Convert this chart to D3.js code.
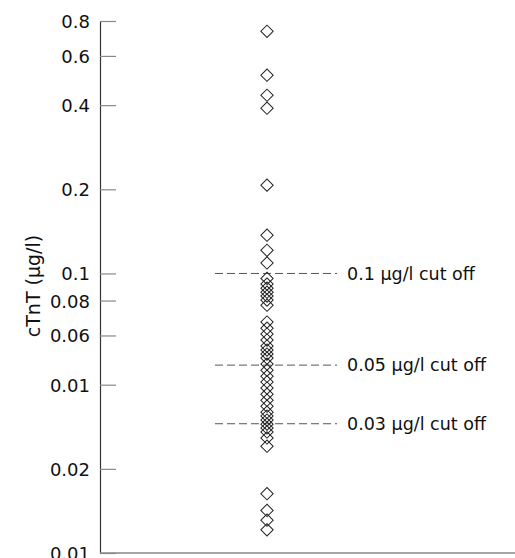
<!DOCTYPE html>
<html>
<head>
<meta charset="utf-8">
<script src="https://cdn.jsdelivr.net/npm/d3@7"></script>
<style>
  html, body { margin: 0; padding: 0; background: #fff; }
  svg { display: block; }
  text { font-family: "DejaVu Sans", "Open Sans", sans-serif; fill: #111; }
</style>
</head>
<body>
<svg id="chart" width="515" height="558"></svg>
<script>
// ---- data ----
const tickValues = [0.01, 0.02, 0.04, 0.06, 0.08, 0.1, 0.2, 0.4, 0.6, 0.8];
const tickLabels = ["0.01", "0.02", "0.01", "0.06", "0.08", "0.1", "0.2", "0.4", "0.6", "0.8"];
const cTnT = [
  0.735, 0.512, 0.434, 0.390, 0.207, 0.137, 0.121, 0.109,
  0.096, 0.0916, 0.0886, 0.0857, 0.083, 0.0803, 0.077,
  0.067, 0.0637, 0.0607, 0.0578, 0.055, 0.0532, 0.0515, 0.0498,
  0.0474, 0.0451, 0.0429, 0.0409, 0.0389, 0.037, 0.0352, 0.0335,
  0.0319, 0.0309, 0.0299, 0.0289, 0.028, 0.0271, 0.0258, 0.0241,
  0.0163, 0.0142, 0.0131, 0.0121
];
const cutoffValues = [0.1, 0.047, 0.029];
const cutoffLabels = ["0.1 \u03bcg/l cut off", "0.05 \u03bcg/l cut off", "0.03 \u03bcg/l cut off"];
const groups = ["cTnT"];
const yTitle = "cTnT (\u03bcg/l)";

// ---- layout ----
const svg = d3.select("#chart");
const axisX = 100, yTop = 21, yBottom = 553;

const y = d3.scaleLog().domain([0.01, 0.8]).range([yBottom, yTop]);
const x = d3.scalePoint().domain(groups).range([axisX, 434]).padding(0.5);

// y axis
const yAxis = d3.axisRight(y)
  .tickValues(tickValues)
  .tickFormat((d, i) => tickLabels[i])
  .tickSize(16)
  .tickSizeOuter(0);
const gAxis = svg.append("g").attr("transform", `translate(${axisX},0)`).call(yAxis);
gAxis.select(".domain").attr("stroke", "#333").attr("stroke-width", 1.2);
gAxis.selectAll(".tick line").attr("stroke", "#888").attr("stroke-width", 1.2);
gAxis.selectAll(".tick text")
  .attr("x", -10)
  .attr("text-anchor", "end")
  .attr("dy", "0.36em")
  .style("font-size", "18px")
  .style("font-family", "'DejaVu Sans', sans-serif")
  .attr("fill", "#111");

// bottom baseline
svg.append("line")
  .attr("x1", axisX).attr("x2", 515)
  .attr("y1", y(0.01)).attr("y2", y(0.01))
  .attr("stroke", "#888").attr("stroke-width", 1.5);

// y title
svg.append("text")
  .attr("transform", `translate(40,286) rotate(-90)`)
  .attr("text-anchor", "middle")
  .style("font-size", "19px")
  .text(yTitle);

// cut-off lines
const cx = x("cTnT");
const cut = svg.append("g");
cut.selectAll("line").data(cutoffValues).join("line")
  .attr("x1", cx - 52).attr("x2", cx + 70)
  .attr("y1", d => y(d)).attr("y2", d => y(d))
  .attr("stroke", "#555").attr("stroke-width", 1)
  .attr("stroke-dasharray", "8,4");
cut.selectAll("text").data(cutoffValues).join("text")
  .attr("x", cx + 80)
  .attr("y", d => y(d))
  .attr("dy", "0.36em")
  .style("font-size", "17.5px")
  .text((d, i) => cutoffLabels[i]);

// points (diamonds)
const sym = d3.symbol().type(d3.symbolSquare).size(76);
svg.append("g").selectAll("path").data(cTnT).join("path")
  .attr("d", sym)
  .attr("transform", d => `translate(${cx},${y(d)}) rotate(45)`)
  .attr("fill", "none")
  .attr("stroke", "#222")
  .attr("stroke-width", 1);
</script>
</body>
</html>
